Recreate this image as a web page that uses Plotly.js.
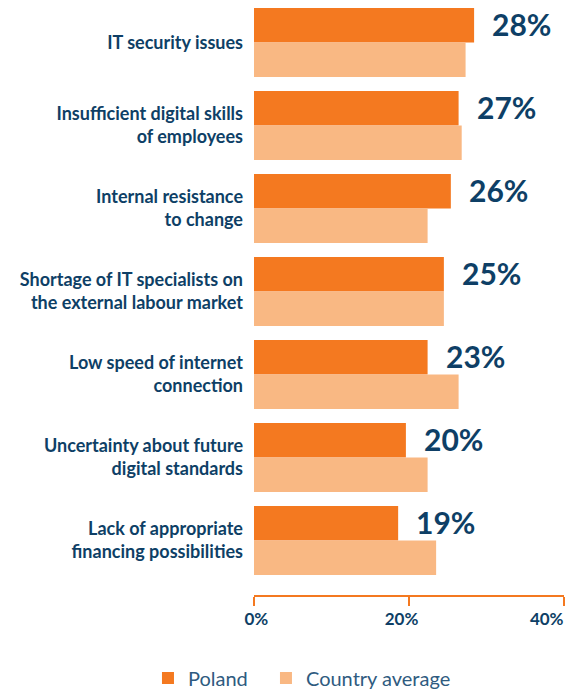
<!DOCTYPE html>
<html>
<head>
<meta charset="utf-8">
<script src="https://cdn.plot.ly/plotly-3.0.1.min.js"></script>
<style>
  html, body { margin: 0; padding: 0; background: #ffffff; }
  #chart { width: 566px; height: 691px; }
</style>
</head>
<body>
<div id="chart"></div>
<script>
// barriers to digitalisation, share of firms (%)
const categories = [
    'IT security issues',
    'Insufficient digital skills<br>of employees',
    'Internal resistance<br>to change',
    'Shortage of IT specialists on<br>the external labour market',
    'Low speed of internet<br>connection',
    'Uncertainty about future<br>digital standards',
    'Lack of appropriate<br>financing possibilities'
];
const polandValues = [28.4, 26.4, 25.4, 24.5, 22.4, 19.6, 18.6];
const averageValues = [27.3, 26.8, 22.4, 24.5, 26.4, 22.4, 23.5];
const polandLabels = ['28%', '27%', '26%', '25%', '23%', '20%', '19%'];
const tickValues = [0, 20, 40];
const tickLabels = ['0%', '20%', '40%'];

const navy = '#0e3f66';
const orange = '#f47920';
const lightOrange = '#f9b883';

const tracePoland = {
    type: 'bar',
    orientation: 'h',
    name: 'Poland',
    y: categories,
    x: polandValues,
    marker: { color: orange },
    legend: 'legend',
    hoverinfo: 'skip'
};
const traceAverage = {
    type: 'bar',
    orientation: 'h',
    name: 'Country average',
    y: categories,
    x: averageValues,
    marker: { color: lightOrange },
    legend: 'legend2',
    hoverinfo: 'skip'
};
// invisible points so the label axis gets drawn
const traceTickHolder = {
    type: 'scatter',
    mode: 'markers',
    x: tickValues,
    y: tickValues.map(() => categories[0]),
    xaxis: 'x2',
    yaxis: 'y',
    marker: { opacity: 0 },
    showlegend: false,
    hoverinfo: 'skip'
};

// value labels to the right of the Poland bars
const annotations = polandValues.map((v, i) => ({
    x: v,
    y: categories[i],
    xref: 'x',
    yref: 'y',
    text: polandLabels[i],
    showarrow: false,
    xanchor: 'left',
    yanchor: 'middle',
    xshift: 16,
    yshift: 18,
    font: { family: 'Lato', size: 30, color: navy, weight: 'bold' }
}));

const legendFont = { family: 'Lato', size: 20, color: '#2f5b80' };

const layout = {
    width: 566,
    height: 691,
    margin: { l: 254, r: 2, t: 0, b: 96, autoexpand: false },
    paper_bgcolor: '#ffffff',
    plot_bgcolor: '#ffffff',
    barmode: 'group',
    bargap: 0.17,
    bargroupgap: 0,
    showlegend: true,
    font: { family: 'Lato', color: navy },
    xaxis: {
        range: [0, 40],
        tickvals: tickValues,
        showticklabels: false,
        showgrid: false,
        zeroline: false,
        showline: true,
        linecolor: orange,
        linewidth: 1.5,
        ticks: 'outside',
        ticklen: 9,
        tickwidth: 1.5,
        tickcolor: orange,
        fixedrange: true
    },
    // label axis, the source places its labels slightly inward of the ticks
    xaxis2: {
        overlaying: 'x',
        anchor: 'y',
        side: 'bottom',
        range: [-0.32, 42.38],
        tickvals: tickValues,
        ticktext: tickLabels,
        showgrid: false,
        zeroline: false,
        showline: false,
        ticks: 'outside',
        ticklen: 9,
        tickcolor: 'rgba(0,0,0,0)',
        tickfont: { family: 'Lato', size: 17, color: navy, weight: 'bold' },
        fixedrange: true
    },
    yaxis: {
        type: 'category',
        range: [6.657, -0.512],
        showgrid: false,
        zeroline: false,
        showline: false,
        ticks: '',
        ticklabelstandoff: 10,
        tickfont: { family: 'Lato', size: 18, color: navy, weight: 'bold' },
        fixedrange: true
    },
    legend: {
        orientation: 'h',
        x: -0.342,
        xanchor: 'left',
        y: -0.1395,
        yanchor: 'middle',
        font: legendFont,
        bgcolor: 'rgba(0,0,0,0)'
    },
    legend2: {
        orientation: 'h',
        x: 0.0386,
        xanchor: 'left',
        y: -0.1395,
        yanchor: 'middle',
        font: legendFont,
        bgcolor: 'rgba(0,0,0,0)'
    },
    annotations: annotations
};

Plotly.newPlot('chart', [tracePoland, traceAverage, traceTickHolder], layout, { displayModeBar: false, staticPlot: true });
</script>
</body>
</html>
